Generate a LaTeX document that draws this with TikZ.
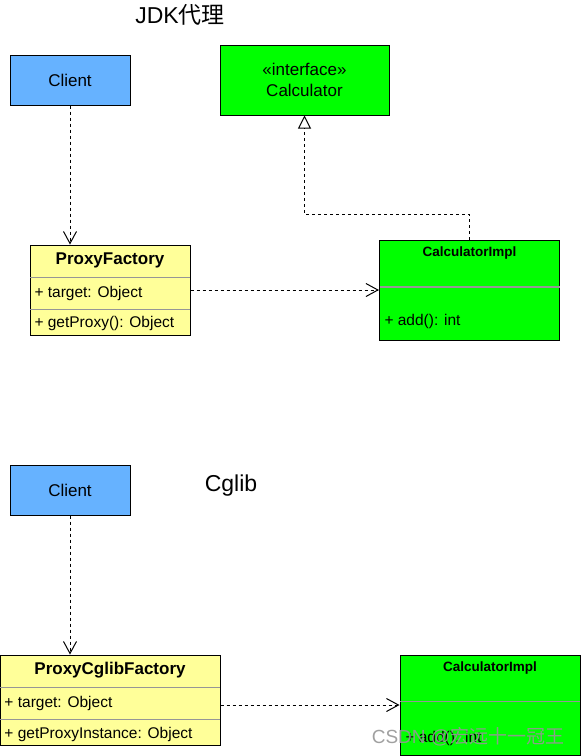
\documentclass[tikz,border=0pt]{standalone}
\usepackage{fontspec}
\setmainfont{Liberation Sans}
\newfontfamily\cjk{Noto Sans CJK SC}
\usetikzlibrary{arrows.meta}
\definecolor{blue1}{RGB}{102, 178, 255}
\definecolor{green1}{RGB}{0, 255, 0}
\definecolor{yellow1}{RGB}{255, 255, 153}
\definecolor{gray1}{RGB}{150, 150, 150}

\begin{document}
\begin{tikzpicture}[x=1pt, y=-1pt, line width=1pt,
  box/.style={draw, rectangle, inner sep=0pt, font=\fontsize{17}{21}\selectfont},
  cname/.style={font=\bfseries\fontsize{17}{20}\selectfont, inner sep=0pt},
  iname/.style={font=\bfseries\fontsize{13.5}{16}\selectfont, inner sep=0pt},
  member/.style={anchor=west, inner sep=0pt, font=\fontsize{15.5}{18}\selectfont},
  sep/.style={draw=gray1, line width=1pt},
  dep/.style={dashed, -{Straight Barb[length=12pt,width=13pt]}},
  real/.style={dashed, -{Triangle[open,length=13pt,width=13pt]}},
  title/.style={font=\fontsize{23}{26}\selectfont, inner sep=0pt}]
  \useasboundingbox (0,0) rectangle (581,756);

  % JDK
  \node[title] (t1) at (180,15) {JDK{\cjk 代理}};
  \node[box, fill=blue1, minimum width=120, minimum height=50] (c1) at (70,80) {Client};
  \node[box, fill=green1, minimum width=169, minimum height=70, align=center] (calc) at (304.5,80)
    {«interface»\\Calculator};

  \node[box, fill=yellow1, minimum width=160, minimum height=90] (pf) at (110,290) {};
  \node[cname] (pfname) at (110,260) {ProxyFactory};
  \draw[sep] (30,277) -- (190,277);
  \draw[sep] (30,309) -- (190,309);
  \node[member] (pft) at (34,293) {+ target: Object};
  \node[member] (pfg) at (34,323) {+ getProxy(): Object};

  \node[box, fill=green1, minimum width=180, minimum height=100] (ci) at (469.5,290) {};
  \node[iname] (ciname) at (469.5,253) {CalculatorImpl};
  \draw[sep, line width=2pt] (379.5,287) -- (559.5,287);
  \node[member] (ciadd) at (384,321) {+ add(): int};

  \draw[dep] (c1.south) -- (c1.south |- pf.north);
  \draw[dep] (pf.east) -- (ci.west);
  \draw[real] (ci.north) -- ++(0,-25) -| (calc.south);

  % Cglib
  \node[title] (t2) at (231,486) {Cglib};
  \node[box, fill=blue1, minimum width=120, minimum height=50] (c2) at (70,490) {Client};

  \node[box, fill=yellow1, minimum width=220, minimum height=90] (pcf) at (110,700) {};
  \node[cname] (pcfname) at (110,670) {ProxyCglibFactory};
  \draw[sep] (0,687) -- (220,687);
  \draw[sep] (0,719) -- (220,719);
  \node[member] (pcft) at (4,703) {+ target: Object};
  \node[member] (pcfg) at (4,734) {+ getProxyInstance: Object};

  \node[box, fill=green1, minimum width=180, minimum height=100] (ci2) at (490,705) {};
  \node[iname] (ci2name) at (490,668) {CalculatorImpl};
  \draw[sep] (400,701) -- (580,701);
  \node[member] (ci2add) at (405,738) {+ add(): int};

  \draw[dep] (c2.south) -- (c2.south |- pcf.north);
  \draw[dep] (pcf.east |- ci2.west) -- (ci2.west);

  \node[font=\fontsize{19}{22}\selectfont, text=gray1, opacity=0.9, inner sep=0pt] (wm) at (468,737)
    {CSDN @{\cjk 宏远十一冠王}};
\end{tikzpicture}
\end{document}
